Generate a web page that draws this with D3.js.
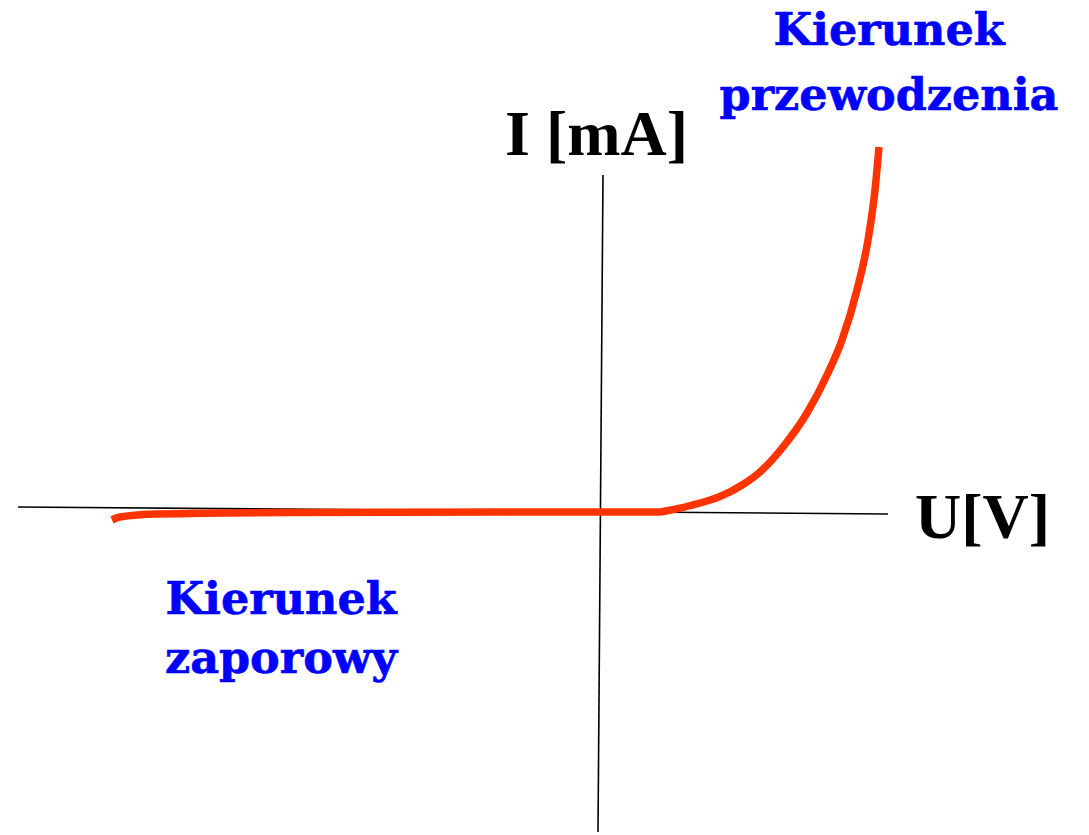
<!DOCTYPE html>
<html>
<head>
<meta charset="utf-8">
<script src="https://cdn.jsdelivr.net/npm/d3@7"></script>
<style>
html,body{margin:0;padding:0;background:#fff;}
svg{display:block;}
</style>
</head>
<body>
<svg id="chart" width="1089" height="835"></svg>
<script>
// Diode I-V characteristic (schematic)
const voltage = [-4.88, -4.80, -4.43, -3.10, 0.0, 0.60, 0.67, 0.80, 0.93, 1.07, 1.20, 1.43, 1.60, 1.83, 2.07, 2.28, 2.42, 2.57, 2.68, 2.75, 2.79];
const current = [-0.8, -0.5, -0.2, -0.05, 0.0, 0.0, 0.12, 0.38, 0.72, 1.1, 1.55, 2.75, 4.0, 6.5, 9.9, 13.9, 17.2, 22.2, 27.2, 32.2, 36.5];
// axis end points (slightly skewed as in the original drawing)
const uAxisU = [-5.82, 2.88];
const uAxisI = [0.5, -0.2];
const iAxisU = [0.03, -0.02];
const iAxisI = [33.7, -32.0];
const axisLabels = ["U[V]", "I [mA]"];
const regionLabels = [["Kierunek", "przewodzenia"], ["Kierunek", "zaporowy"]];

const svg = d3.select("#chart");
const x = d3.scaleLinear().domain([-6, 3]).range([0, 900]);
const y = d3.scaleLinear().domain([0, 40]).range([512, 112]);

const line = d3.line().x(d => x(d[0])).y(d => y(d[1]));

// axes
svg.append("path")
  .attr("d", line(d3.zip(uAxisU, uAxisI)))
  .attr("stroke", "#000").attr("stroke-width", 1.6).attr("fill", "none");
svg.append("path")
  .attr("d", line(d3.zip(iAxisU, iAxisI)))
  .attr("stroke", "#000").attr("stroke-width", 1.6).attr("fill", "none");

// curve
const curveLine = d3.line().x(d => x(d[0])).y(d => y(d[1])).curve(d3.curveMonotoneX);
svg.append("path")
  .attr("d", curveLine(d3.zip(voltage, current)))
  .attr("stroke", "#ff3300").attr("stroke-width", 7.5).attr("fill", "none")
  .attr("stroke-linecap", "butt").attr("stroke-linejoin", "round");

// axis labels
svg.append("text").text(axisLabels[0])
  .attr("x", x(3.15)).attr("y", y(-2.6))
  .attr("font-family", "'Liberation Serif', 'Times New Roman', serif")
  .attr("font-weight", "bold").attr("font-size", 64).attr("fill", "#000");
svg.append("text").text(axisLabels[1])
  .attr("x", x(-0.95)).attr("y", y(35.7))
  .attr("font-family", "'Liberation Serif', 'Times New Roman', serif")
  .attr("font-weight", "bold").attr("font-size", 64).attr("fill", "#000");

// region labels
function regionText(lines, cx, baselines) {
  lines.forEach((t, i) => {
    svg.append("text").text(t)
      .attr("x", cx).attr("y", baselines[i])
      .attr("text-anchor", "middle")
      .attr("font-family", "'DejaVu Serif', serif")
      .attr("font-weight", "bold").attr("font-size", 44.5)
      .attr("stroke", "#0000ff").attr("stroke-width", 0.6)
      .attr("fill", "#0000ff");
  });
}
regionText(regionLabels[0], x(2.89), [y(46.7), y(40.2)]);
regionText(regionLabels[1], x(-3.19), [y(-10.2), y(-16.1)]);
</script>
</body>
</html>
